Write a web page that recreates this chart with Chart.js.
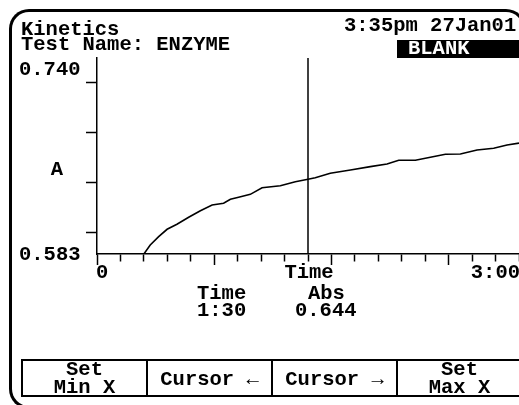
<!DOCTYPE html>
<html>
<head>
<meta charset="utf-8">
<script src="https://cdn.jsdelivr.net/npm/chart.js@4/dist/chart.umd.min.js"></script>
<style>
  html, body { margin: 0; padding: 0; background: #fff; overflow: hidden; }
  #wrap { position: relative; width: 519px; height: 405px; overflow: hidden; background: #fff; }
  #c { position: absolute; left: 0; top: 0; }
  .t { position: absolute; font-family: "Liberation Mono", "DejaVu Sans Mono", monospace; font-weight: bold;
       font-size: 20.5px; line-height: 20px; height: 20px; white-space: pre; color: #000; }
  .frame { position: absolute; left: 9px; top: 9px; width: 400px; height: 400px; box-sizing: border-box;
           border-left: 3px solid #000; border-top: 3px solid #000; border-bottom: 3px solid #000;
           border-radius: 20px 0 0 20px; pointer-events: none; }
  .frame2 { position: absolute; left: 300px; top: 9px; width: 226px; height: 60px; box-sizing: border-box;
           border-right: 3px solid #000; border-top: 3px solid #000; border-radius: 0 20px 0 0; pointer-events: none; }
  .hl { position: absolute; background: #000; }
  .btn { position: absolute; top: 360px; height: 36px; width: 125px; text-align: center; }
  .btn .t { position: absolute; left: 0; width: 125px; text-align: center; }
</style>
</head>
<body>
<div id="wrap">
  <canvas id="c" width="519" height="405"></canvas>
  <div class="frame"></div>
  <div class="frame2"></div>
  <div class="t" style="left:21px;top:20px">Kinetics</div>
  <div class="t" style="left:21px;top:35px">Test Name: ENZYME</div>
  <div class="t" style="left:344px;top:16px">3:35pm 27Jan01</div>
  <div class="hl" style="left:397px;top:40px;width:130px;height:18px"></div>
  <div class="t" style="left:408px;top:39px;color:#fff">BLANK</div>

  <div class="t" style="left:197px;top:284px">Time</div>
  <div class="t" style="left:197px;top:301px">1:30</div>
  <div class="t" style="left:308px;top:284px">Abs</div>
  <div class="t" style="left:295px;top:301px">0.644</div>

  <div class="hl" style="left:21px;top:359px;width:510px;height:2px"></div>
  <div class="hl" style="left:21px;top:395px;width:510px;height:2px"></div>
  <div class="hl" style="left:21px;top:359px;width:2px;height:38px"></div>
  <div class="hl" style="left:146px;top:359px;width:2px;height:38px"></div>
  <div class="hl" style="left:271px;top:359px;width:2px;height:38px"></div>
  <div class="hl" style="left:396px;top:359px;width:2px;height:38px"></div>

  <div class="btn" style="left:22px"><div class="t" style="top:0px">Set</div><div class="t" style="top:18px">Min X</div></div>
  <div class="btn" style="left:147px"><div class="t" style="top:10px">Cursor ←</div></div>
  <div class="btn" style="left:272px"><div class="t" style="top:10px">Cursor →</div></div>
  <div class="btn" style="left:397px"><div class="t" style="top:0px">Set</div><div class="t" style="top:18px">Max X</div></div>
</div>
<script>
// ---- data (seconds, absorbance) ----
const times = [20, 22.7, 26.3, 29.9, 34.1, 39.1, 44.1, 49.1, 54.0, 56.9, 60.4, 65.4, 70.4, 78.2, 84.6,
               90.0, 93.1, 99.5, 108.1, 116.6, 123.7, 128.7, 135.8, 142.2, 148.6, 155.0, 162.1, 169.2, 174.9, 180];
const absValues = [0.583, 0.5902, 0.5969, 0.6028, 0.6068, 0.6124, 0.6177, 0.6223, 0.6236, 0.6268, 0.6284, 0.6308,
                   0.6361, 0.6377, 0.6409, 0.6429, 0.6441, 0.6477, 0.6503, 0.6530, 0.6551, 0.6581, 0.6581, 0.6605,
                   0.6629, 0.6631, 0.6663, 0.6677, 0.6703, 0.6718];
const cursorTime = 90;
const xMin = 0, xMax = 180, xTickStep = 10, xMajorStep = 50;
const yMin = 0.583, yMax = 0.740;
const yTickValues = [0.60, 0.64, 0.68, 0.72];
const xTickLabels = ['0', 'Time', '3:00'];
const yTickLabels = ['0.740', '0.583'];
const yAxisTitle = 'A';

const FONT = 'bold 20.5px "Liberation Mono", "DejaVu Sans Mono", monospace';
const INK = '#000';

const labelPlugin = {
  id: 'lcdLabels',
  afterDraw(chart) {
    const ctx = chart.ctx, xs = chart.scales.x, ys = chart.scales.y;
    ctx.save();
    ctx.font = FONT;
    ctx.fillStyle = INK;
    ctx.textBaseline = 'alphabetic';
    const base = xs.bottom + 13;
    ctx.textAlign = 'left';
    ctx.fillText(xTickLabels[0], xs.getPixelForValue(xMin) - 1, base);
    ctx.textAlign = 'center';
    ctx.fillText(xTickLabels[1], xs.getPixelForValue(cursorTime) + 1, base);
    ctx.textAlign = 'right';
    ctx.fillText(xTickLabels[2], xs.getPixelForValue(xMax) + 1, base);
    ctx.textAlign = 'left';
    ctx.fillText(yTickLabels[0], 19, ys.getPixelForValue(yMax) + 17);
    ctx.fillText(yTickLabels[1], 19, ys.getPixelForValue(yMin) + 6);
    ctx.textAlign = 'center';
    ctx.fillText(yAxisTitle, 57, (ys.top + ys.bottom) / 2 + 19);
    ctx.restore();
  }
};

new Chart(document.getElementById('c'), {
  type: 'line',
  data: {
    datasets: [
      {
        data: times.map((t, i) => ({ x: t, y: absValues[i] })),
        borderColor: INK, borderWidth: 1.6, pointRadius: 0, tension: 0, fill: false
      },
      {
        data: [{ x: cursorTime, y: yMin }, { x: cursorTime, y: yMax }],
        borderColor: INK, borderWidth: 1.5, pointRadius: 0, fill: false
      }
    ]
  },
  options: {
    responsive: false,
    animation: false,
    devicePixelRatio: 1,
    events: [],
    layout: { padding: { left: 86, top: 58, right: 0, bottom: 140 } },
    plugins: { legend: { display: false }, tooltip: { enabled: false }, title: { display: false } },
    scales: {
      x: {
        type: 'linear', position: 'bottom', min: xMin, max: xMax,
        ticks: { display: false, stepSize: xTickStep },
        grid: {
          drawOnChartArea: false, drawTicks: true, tickLength: 11, tickWidth: 1.5, tickColor: INK,
          tickBorderDash: (ctx) => (ctx.tick && Math.abs(ctx.tick.value % xMajorStep) < 1e-6) ? [] : [7, 30]
        },
        border: { display: true, color: INK, width: 1.5 }
      },
      y: {
        type: 'linear', position: 'left', min: yMin, max: yMax,
        afterBuildTicks: (s) => { s.ticks = yTickValues.map(v => ({ value: v })); },
        ticks: { display: false },
        grid: { drawOnChartArea: false, drawTicks: true, tickLength: 11, tickWidth: 1.5, tickColor: INK },
        border: { display: true, color: INK, width: 1.5 }
      }
    }
  },
  plugins: [labelPlugin]
});
</script>
</body>
</html>
